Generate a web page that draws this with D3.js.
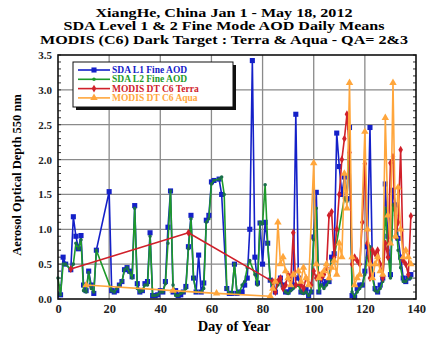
<!DOCTYPE html>
<html>
<head>
<meta charset="utf-8">
<script src="https://cdn.jsdelivr.net/npm/d3@7"></script>
<style>
  body { margin: 0; background: #fff; }
  text { font-family: "Liberation Serif", "DejaVu Serif", serif; font-weight: bold; }
</style>
</head>
<body>
<svg id="chart" width="431" height="337"></svg>
<script>
// title lines
const titleLines = [
  "XiangHe, China  Jan 1 - May 18, 2012",
  "SDA Level 1 & 2 Fine Mode AOD Daily Means",
  "MODIS (C6) Dark Target : Terra & Aqua - QA= 2&3"
];
const titleWidths = [257, 321, 368];
const xTicks = [0, 20, 40, 60, 80, 100, 120, 140];
const yTicks = [0, 0.5, 1, 1.5, 2, 2.5, 3, 3.5];

// [day, AOD]
const sdaL1 = [[1,0.06],[2,0.6],[3,0.5],[5,0.42],[6,1.18],[7,0.9],[8,0.72],[9,0.91],[10,0.2],[11,0.12],[12,0.4],[13,0.2],[14,0.08],[15,0.7],[20,1.54],[21,0.12],[22,0.1],[23,0.12],[24,0.2],[25,0.25],[26,0.42],[27,0.45],[28,0.4],[29,0.32],[30,1.34],[31,0.22],[32,0.1],[33,0.12],[34,0.22],[35,0.25],[36,0.95],[37,0.05],[38,0.05],[39,0.06],[40,0.12],[41,0.1],[42,0.25],[43,1.03],[44,1.55],[45,0.1],[46,0.12],[47,0.05],[48,0.06],[49,0.1],[50,0.18],[51,0.75],[52,1.2],[53,0.3],[54,0.1],[55,0.63],[56,0.1],[57,0.23],[58,1.13],[59,1.2],[60,1.68],[61,1.7],[63,1.72],[64,1.5],[66,0.15],[67,0.08],[68,0.08],[69,0.5],[70,0.08],[71,0.1],[72,0.1],[73,0.2],[74,0.3],[75,1.0],[76,3.42],[77,0.6],[78,0.23],[79,1.09],[80,0.5],[81,1.1],[82,0.8],[83,0.27],[84,0.2],[85,0.1],[86,0.25],[87,0.3],[88,0.2],[89,0.1],[90,0.1],[91,0.15],[92,0.2],[93,2.65],[94,0.3],[95,0.1],[96,0.1],[97,0.15],[98,0.05],[99,0.1],[100,0.89],[101,1.53],[102,0.1],[103,0.3],[104,0.2],[105,0.25],[106,0.25],[107,0.6],[108,0.65],[109,2.38],[110,1.9],[111,1.5],[112,1.75],[113,1.44],[114,2.46],[115,0.05],[116,0.03],[117,0.15],[118,0.2],[119,0.2],[120,0.4],[121,0.75],[122,2.46],[123,0.35],[124,0.15],[125,0.1],[126,0.2],[127,0.3],[128,1.65],[129,0.9],[130,0.35],[131,1.56],[132,1.35],[133,0.87],[134,0.6],[135,0.3],[136,0.25],[137,0.3],[138,0.35]];

const sdaL2 = [[0,0.3],[1,0.06],[2,0.5],[3,0.5],[5,0.42],[6,0.5],[7,0.8],[8,0.72],[9,0.85],[10,0.12],[11,0.1],[12,0.38],[13,0.15],[14,0.1],[15,0.7],[21,0.12],[22,0.1],[23,0.15],[24,0.2],[25,0.25],[26,0.42],[27,0.45],[28,0.38],[29,0.3],[30,1.3],[31,0.15],[32,0.1],[33,0.12],[34,0.2],[35,0.2],[36,0.9],[37,0.05],[38,0.05],[39,0.06],[40,0.1],[41,0.1],[42,0.22],[43,0.8],[44,1.55],[45,0.2],[46,0.05],[47,0.05],[48,0.08],[49,0.1],[50,0.15],[51,0.72],[52,1.15],[53,0.3],[54,0.1],[56,0.1],[57,0.15],[58,1.1],[59,1.15],[60,1.65],[61,1.7],[63,1.72],[64,1.75],[65,1.5],[66,0.15],[67,0.08],[68,0.08],[69,0.5],[70,0.08],[71,0.1],[72,0.2],[73,0.25],[74,0.45],[75,0.55],[77,0.35],[78,0.2],[79,1.1],[80,1.08],[81,1.64],[82,0.8],[83,0.27],[84,0.15],[85,0.12],[86,0.2],[87,0.25],[88,0.15],[89,0.1],[90,0.08],[91,0.12],[92,0.15],[94,0.2],[95,0.1],[96,0.08],[97,0.1],[98,0.05],[99,0.1],[100,0.85],[101,1.3],[102,0.1],[103,0.2],[104,0.15],[105,0.2],[106,0.25],[107,0.55],[108,0.6],[112,1.45],[113,1.4],[114,2.45],[115,0.1],[116,0.03],[117,0.1],[118,0.15],[119,0.2],[120,0.35],[121,0.6],[122,0.75],[123,0.3],[124,0.12],[125,0.1],[126,0.15],[127,0.25],[128,1.3],[129,0.7],[130,0.3],[131,1.35],[132,1.2],[133,0.7],[134,0.45],[135,0.25],[136,0.25],[137,0.3],[138,0.3]];

const terra = [[5,0.43],[51,0.95],[84,0.25],[85,0.1],[86,0.25],[87,0.3],[88,0.15],[89,0.2],[90,0.35],[91,0.25],[92,0.95],[93,0.2],[95,0.2],[96,0.15],[97,0.3],[99,0.2],[100,0.4],[101,0.3],[102,0.35],[103,0.3],[104,0.35],[105,0.45],[106,1.2],[107,1.25],[108,0.6],[109,1.0],[110,1.5],[111,2.0],[112,2.3],[113,2.65],[114,2.1],[115,0.5],[116,0.6],[117,0.55],[118,0.5],[119,1.1],[120,1.94],[121,0.8],[122,0.3],[123,0.7],[124,0.65],[125,0.7],[126,0.5],[127,0.3],[128,0.8],[129,0.6],[130,1.95],[131,2.04],[132,0.9],[133,1.1],[134,2.14],[135,0.55],[136,0.5],[137,0.35],[138,1.19]];

const aqua = [[11,0.2],[45,0.12],[62,0.08],[83,0.04],[84,0.15],[85,0.25],[86,1.1],[87,0.5],[88,0.6],[89,0.4],[90,0.3],[91,0.2],[92,0.35],[94,0.4],[95,0.25],[96,0.45],[97,0.3],[98,0.2],[100,1.95],[101,0.5],[102,0.3],[103,0.35],[104,0.4],[105,0.5],[106,0.3],[107,0.45],[108,0.55],[109,0.35],[110,0.8],[111,0.6],[112,1.8],[113,1.3],[114,3.1],[115,0.6],[116,0.2],[117,0.3],[118,0.35],[120,2.4],[121,1.0],[122,0.5],[123,0.3],[124,0.5],[125,0.6],[126,0.4],[127,0.35],[128,2.6],[129,1.2],[130,0.8],[131,3.1],[132,0.9],[133,1.6],[134,1.0],[135,0.6],[136,0.7],[137,0.6],[138,0.5]];

const seriesNames = ["SDA L1 Fine AOD", "SDA L2 Fine AOD", "MODIS DT C6 Terra", "MODIS DT C6 Aqua"];
const seriesColors = ["#1420c8", "#1e9a2a", "#d0202a", "#ffa63c"];
const seriesData = [sdaL1, sdaL2, terra, aqua];
const seriesSymbols = [d3.symbolSquare, d3.symbolCircle, d3.symbolDiamond, d3.symbolTriangle];
const symbolSizes = [26, 10, 18, 24];

const svg = d3.select("#chart");
const m = { left: 58, right: 416, top: 55, bottom: 299 };

const x = d3.scaleLinear().domain([0, 140]).range([m.left, m.right]);
const y = d3.scaleLinear().domain([0, 3.5]).range([m.bottom, m.top]);

// titles (stretched a bit to match the original's wide face)
svg.selectAll(".title")
  .data(titleLines).enter()
  .append("text")
    .attr("x", 224)
    .attr("y", (d, i) => 16.5 + i * 13.6)
    .attr("text-anchor", "middle")
    .attr("textLength", (d, i) => titleWidths[i])
    .attr("lengthAdjust", "spacingAndGlyphs")
    .style("font-size", "12px")
    .text(d => d);

// grid
svg.append("g")
  .selectAll("line")
  .data(xTicks.slice(1, -1)).enter()
  .append("line")
    .attr("x1", d => x(d)).attr("x2", d => x(d))
    .attr("y1", m.top).attr("y2", m.bottom)
    .attr("stroke", "#8a8a8a").attr("stroke-width", 1.3);

svg.append("g")
  .selectAll("line")
  .data(yTicks.slice(1, -1)).enter()
  .append("line")
    .attr("y1", d => y(d)).attr("y2", d => y(d))
    .attr("x1", m.left).attr("x2", m.right)
    .attr("stroke", "#8a8a8a").attr("stroke-width", 1.3);

// minor ticks on left and right
const minor = d3.range(0, 3.51, 0.1);
svg.append("g")
  .selectAll("line")
  .data(minor).enter()
  .append("line")
    .attr("x1", m.left).attr("x2", m.left + 3)
    .attr("y1", d => y(d)).attr("y2", d => y(d))
    .attr("stroke", "#333");
svg.append("g")
  .selectAll("line")
  .data(minor).enter()
  .append("line")
    .attr("x1", m.right - 3).attr("x2", m.right)
    .attr("y1", d => y(d)).attr("y2", d => y(d))
    .attr("stroke", "#333");

// axes labels
const xAxis = d3.axisBottom(x).tickValues(xTicks).tickSize(0).tickPadding(5).tickFormat(d3.format("d"));
svg.append("g")
  .attr("transform", `translate(0,${m.bottom})`)
  .call(xAxis)
  .call(g => g.select(".domain").remove())
  .selectAll("text")
    .style("font-size", "12.5px")
    .style("font-family", "Liberation Serif, serif")
    .style("font-weight", "bold")
    .attr("fill", "#222");

const yAxis = d3.axisLeft(y).tickValues(yTicks).tickSize(0).tickPadding(6).tickFormat(d3.format(".1f"));
svg.append("g")
  .attr("transform", `translate(${m.left},0)`)
  .call(yAxis)
  .call(g => g.select(".domain").remove())
  .selectAll("text")
    .style("font-size", "11px")
    .style("font-family", "Liberation Serif, serif")
    .style("font-weight", "bold")
    .attr("fill", "#222");

svg.append("text")
  .attr("x", 234).attr("y", 331)
  .attr("text-anchor", "middle")
  .style("font-size", "14.5px")
  .text("Day of Year");

svg.append("text")
  .attr("transform", "translate(21,175) rotate(-90)")
  .attr("text-anchor", "middle")
  .style("font-size", "12.5px")
  .text("Aerosol Optical Depth 550 nm");

// series
const line = d3.line().x(d => x(d[0])).y(d => y(d[1]));
const plot = svg.append("g");

seriesData.forEach((data, i) => {
  plot.append("path")
    .attr("d", line(data))
    .attr("fill", "none")
    .attr("stroke", seriesColors[i])
    .attr("stroke-width", 1.6)
    .attr("stroke-linejoin", "round");
  plot.selectAll(".pt" + i)
    .data(data).enter()
    .append("path")
      .attr("transform", d => `translate(${x(d[0])},${y(d[1])})`)
      .attr("d", d3.symbol().type(seriesSymbols[i]).size(symbolSizes[i]))
      .attr("fill", i === 1 ? "#1a6e4a" : seriesColors[i]);
});

// frame
svg.append("rect")
  .attr("x", m.left).attr("y", m.top)
  .attr("width", m.right - m.left).attr("height", m.bottom - m.top)
  .attr("fill", "none").attr("stroke", "#111").attr("stroke-width", 1.6);

// legend
const lg = svg.append("g");
lg.append("rect")
  .attr("x", 76).attr("y", 65).attr("width", 160).attr("height", 45)
  .attr("fill", "#111");
lg.append("rect")
  .attr("x", 73).attr("y", 62).attr("width", 160).attr("height", 45)
  .attr("fill", "#fff").attr("stroke", "#111").attr("stroke-width", 1);

seriesNames.forEach((name, i) => {
  const yy = 70 + i * 9.3;
  lg.append("line")
    .attr("x1", 78).attr("x2", 110).attr("y1", yy).attr("y2", yy)
    .attr("stroke", seriesColors[i]).attr("stroke-width", 1.6);
  lg.append("path")
    .attr("transform", `translate(94,${yy})`)
    .attr("d", d3.symbol().type(seriesSymbols[i]).size(symbolSizes[i]))
    .attr("fill", seriesColors[i]);
  lg.append("text")
    .attr("x", 112).attr("y", yy + 3)
    .style("font-size", "9.5px")
    .attr("fill", seriesColors[i])
    .text(name);
});
</script>
</body>
</html>
